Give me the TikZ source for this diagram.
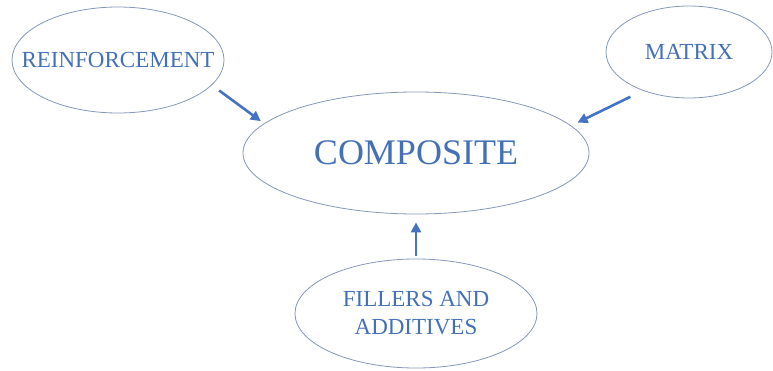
\documentclass[tikz,border=0pt]{standalone}
\usepackage{fontspec}
\setmainfont{Liberation Serif}
\usetikzlibrary{shapes.geometric,arrows.meta}
\definecolor{txtblue}{HTML}{4470B8}
\definecolor{rimblue}{HTML}{8598BA}
\definecolor{arrblue}{HTML}{4472C4}
\tikzset{
  bubble/.style={ellipse, draw=rimblue, line width=0.8pt, inner sep=0pt, inner xsep=-25pt, text=txtblue, align=center},
  arr/.style={draw=arrblue, line width=2.6pt, -{Triangle[length=10pt,width=10pt]}}
}
\begin{document}
\begin{tikzpicture}[x=1pt,y=1pt]
\useasboundingbox (0,0) rectangle (773,370);
\node[bubble, minimum width=212pt, minimum height=106pt, font=\fontsize{23}{27}\selectfont] (reinf) at (118,310) {REINFORCEMENT};
\node[bubble, minimum width=166pt, minimum height=92pt, font=\fontsize{23}{27}\selectfont] (matrix) at (689,318) {MATRIX};
\node[bubble, minimum width=346pt, minimum height=122pt, font=\fontsize{36}{40}\selectfont] (comp) at (416,217) {COMPOSITE};
\node[bubble, minimum width=242pt, minimum height=109pt, font=\fontsize{23}{28}\selectfont] (fill) at (416,56.5) {FILLERS AND\\ADDITIVES};
\draw[arr, shorten <=9pt, shorten >=4pt] (reinf.-15) -- (comp.169);
\draw[arr, shorten <=14pt, shorten >=7pt] (matrix.220) -- (comp.10.4);
\draw[arr, shorten <=3pt, shorten >=8pt] (fill.north) -- (comp.south);
\end{tikzpicture}
\end{document}
